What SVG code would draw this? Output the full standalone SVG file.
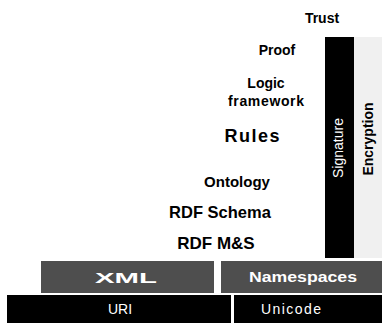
<svg xmlns="http://www.w3.org/2000/svg" width="382" height="323" viewBox="0 0 382 323">
<style>
.lbl{font-family:"Liberation Sans",Arial,sans-serif;font-weight:bold;fill:#000;text-anchor:middle}
.wt{font-family:"Liberation Sans",Arial,sans-serif;fill:#fff;text-anchor:middle}
.dark{fill:#4e4e4e}
.black{fill:#000}
</style>
<rect width="382" height="323" fill="#fff"/>
<g id="trust"><text class="lbl" x="322" y="23" font-size="14">Trust</text></g>
<g id="proof"><text class="lbl" x="277" y="55" font-size="14">Proof</text></g>
<g id="logic"><text class="lbl" x="266" y="88" font-size="14">Logic</text><text class="lbl" x="266" y="106" font-size="14" textLength="76">framework</text></g>
<g id="rules"><text class="lbl" x="252" y="142" font-size="18" textLength="55">Rules</text></g>
<g id="ontology"><text class="lbl" x="237" y="187" font-size="15">Ontology</text></g>
<g id="rdfschema"><text class="lbl" x="220" y="218" font-size="16.5">RDF Schema</text></g>
<g id="rdfms"><text class="lbl" x="216" y="249" font-size="17">RDF M&amp;S</text></g>
<g id="encryption"><rect x="354" y="37" width="28" height="221" fill="#f0f0f0"/><text class="lbl" transform="translate(373,139) rotate(-90)" font-size="14">Encryption</text></g>
<g id="signature"><rect class="black" x="325" y="37" width="29" height="221"/><text class="wt" transform="translate(343,148) rotate(-90)" font-size="14">Signature</text></g>
<g id="xml"><rect class="dark" x="41" y="261" width="173" height="32"/><text class="wt" x="126" y="283" font-size="15" font-weight="bold" textLength="62" lengthAdjust="spacingAndGlyphs">XML</text></g>
<g id="namespaces"><rect class="dark" x="221" y="261" width="161" height="32"/><text class="wt" x="303" y="282" font-size="14" font-weight="bold" textLength="108" lengthAdjust="spacingAndGlyphs">Namespaces</text></g>
<g id="uri"><rect class="black" x="7" y="295" width="224" height="28"/><text class="wt" x="120" y="314" font-size="14">URI</text></g>
<g id="unicode"><rect class="black" x="234" y="295" width="148" height="28"/><text class="wt" x="291" y="314" font-size="14" textLength="60">Unicode</text></g>
<g id="connectors"></g>
</svg>
